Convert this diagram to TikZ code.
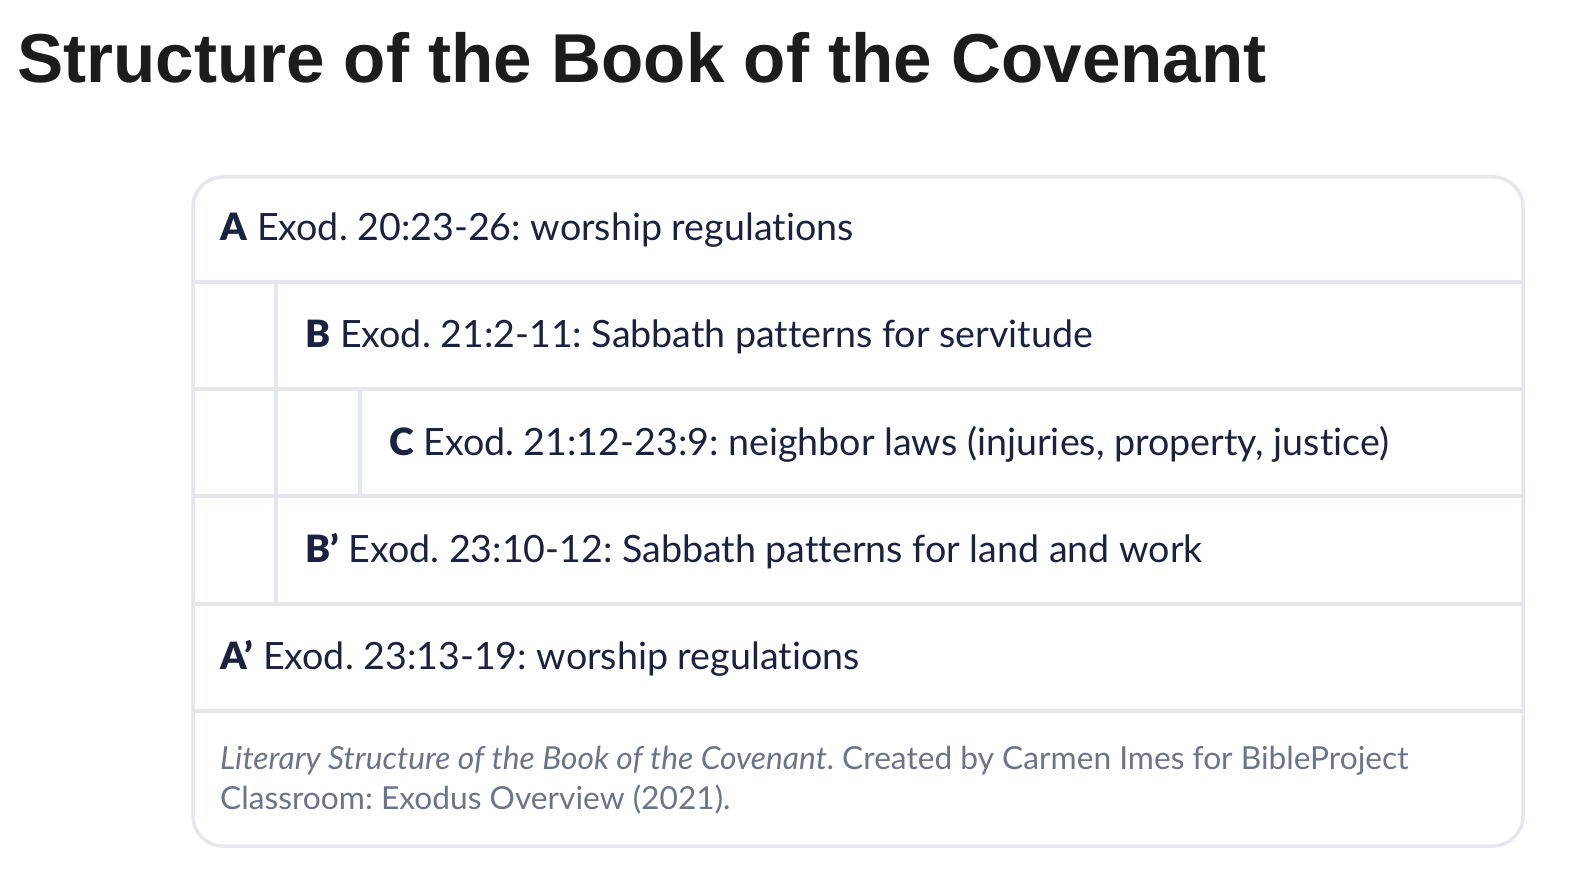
\documentclass[tikz,border=0pt]{standalone}
\usepackage{fontspec}
\setmainfont{Lato}[BoldFont={Lato Black},Ligatures={NoCommon}]
\newfontfamily\titlefont{Liberation Sans}
\frenchspacing
\definecolor{ink}{HTML}{1B2240}
\definecolor{titleink}{HTML}{1C1C1C}
\definecolor{captionink}{HTML}{6B7489}
\definecolor{rulegray}{HTML}{E4E7EC}

\begin{document}
\begin{tikzpicture}[x=1pt,y=-1pt,
  rowtext/.style={anchor=base west,inner sep=0pt,text=ink,font=\fontsize{37.6}{44}\selectfont},
  captext/.style={anchor=base west,inner sep=0pt,text=captionink,align=left,font=\fontsize{31.7}{40}\selectfont},
  rule/.style={draw=rulegray,line width=3.5pt}]
  \useasboundingbox (0,0) rectangle (1572,890);

  \node[anchor=base west,inner sep=0pt,text=titleink,font=\titlefont\bfseries\fontsize{69.2}{76}\selectfont] (title) at (17,83) {Structure of the Book of the Covenant};

  % frame and rows
  \draw[rule,rounded corners=30pt] (193,177) rectangle (1523,846);
  \foreach \y in {282,389,496,604,711}
    \draw[rule] (193,\y) -- (1523,\y);
  \draw[rule] (276,282) -- (276,604);
  \draw[rule] (360,389) -- (360,496);

  \node[rowtext] (A)  at (220,241) {\textbf{A} Exod. 20:23-26: worship regulations};
  \node[rowtext] (B)  at (305,348) {\textbf{B} Exod. 21:2-11: Sabbath patterns for servitude};
  \node[rowtext] (C)  at (389,455) {\textbf{C} Exod. 21:12-23:9: neighbor laws (injuries, property, justice)};
  \node[rowtext] (B2) at (305,562) {\textbf{B’} Exod. 23:10-12: Sabbath patterns for land and work};
  \node[rowtext] (A2) at (220,669) {\textbf{A’} Exod. 23:13-19: worship regulations};

  % caption, two lines
  \node[captext] (cap) at (220,809) {\textit{Literary Structure of the Book of the Covenant}. Created by Carmen Imes for BibleProject\\Classroom: Exodus Overview (2021).};
\end{tikzpicture}
\end{document}
